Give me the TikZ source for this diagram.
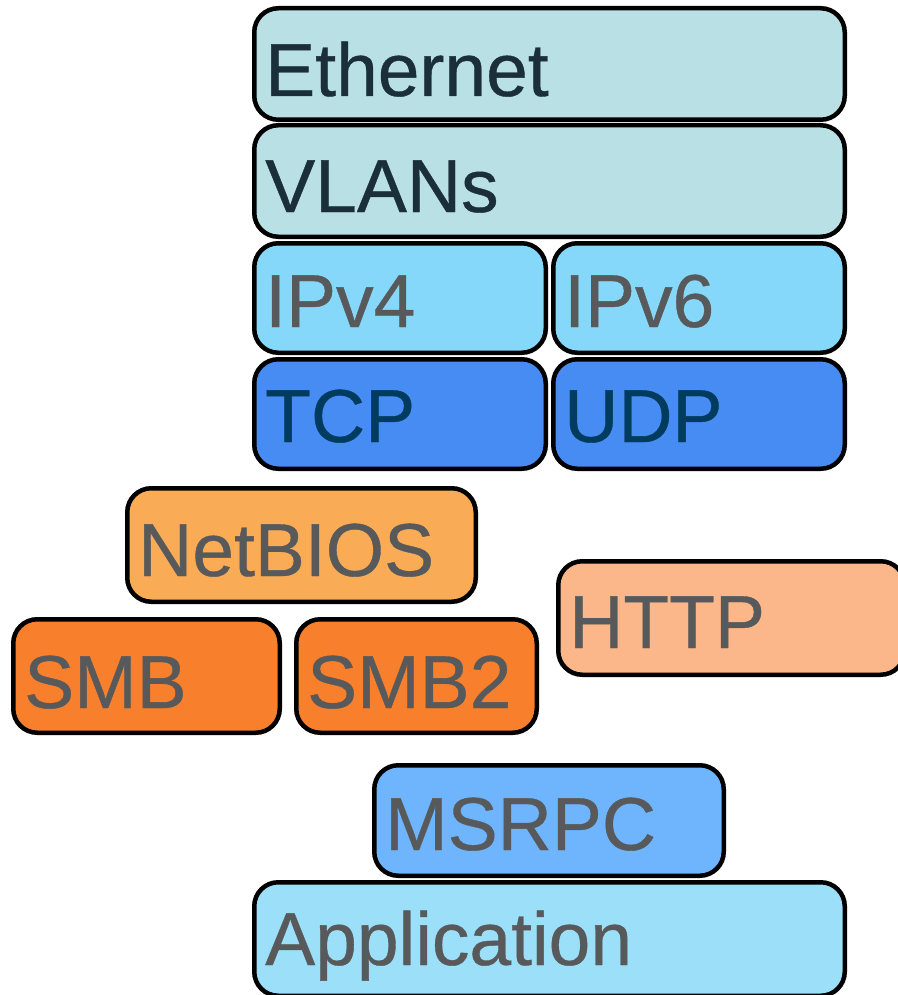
\documentclass[tikz,border=0pt]{standalone}
\usepackage{fontspec}
\setmainfont{Liberation Sans}
\newfontfamily\lblfont[FakeBold=0.5]{Liberation Sans}
\definecolor{ethfill}{HTML}{B9E0E4}
\definecolor{ipfill}{HTML}{85D8FA}
\definecolor{tcpfill}{HTML}{478CF3}
\definecolor{nbfill}{HTML}{F9AC55}
\definecolor{smbfill}{HTML}{F8802C}
\definecolor{httpfill}{HTML}{FBB78A}
\definecolor{rpcfill}{HTML}{6FB5FD}
\definecolor{appfill}{HTML}{9BDFF9}
\definecolor{tealtext}{HTML}{1B2F3B}
\definecolor{graytext}{HTML}{58595B}
\definecolor{bluetext}{HTML}{013B5E}
\tikzset{
  layer/.style={draw=black, line width=4.5pt, rounded corners=24pt, inner sep=0pt},
  lbl/.style={anchor=base west, inner sep=0pt, font=\lblfont\fontsize{75}{75}\selectfont},
}
\newcommand\mklayer[9]{%
  \node[layer, fill=#6, minimum width={#4-#2-4.5}, minimum height={#5-#3-4.5}] (#1) at ({(#2+#4)/2},{(#3+#5)/2}) {};
  \node[lbl, text=#7] (#1t) at ({#2+13},#9) {#8};
}
\begin{document}
\begin{tikzpicture}[x=1pt,y=-1pt]
\useasboundingbox (0,0) rectangle (897,995);
\mklayer{eth}{252}{6}{847}{122}{ethfill}{tealtext}{Ethernet}{96}
\mklayer{vlan}{252}{123}{847}{239}{ethfill}{tealtext}{VLANs}{212}
\mklayer{ipv4}{252}{241}{548}{355}{ipfill}{graytext}{IPv4}{327}
\mklayer{ipv6}{551}{241}{847}{355}{ipfill}{graytext}{IPv6}{327}
\mklayer{tcp}{252}{357}{548}{471}{tcpfill}{bluetext}{TCP}{442}
\mklayer{udp}{551}{357}{847}{471}{tcpfill}{bluetext}{UDP}{442}
\mklayer{nb}{125}{486}{478}{604}{nbfill}{graytext}{NetBIOS}{576}
\mklayer{smb}{11}{617}{282}{735}{smbfill}{graytext}{SMB}{708}
\mklayer{smbb}{294}{617}{539}{735}{smbfill}{graytext}{SMB2}{708}
\mklayer{http}{556}{559}{907}{677}{httpfill}{graytext}{HTTP}{648}
\mklayer{rpc}{372}{763}{726}{878}{rpcfill}{graytext}{MSRPC}{850}
\mklayer{app}{252}{880}{847}{998}{appfill}{graytext}{Application}{965}
\end{tikzpicture}
\end{document}
